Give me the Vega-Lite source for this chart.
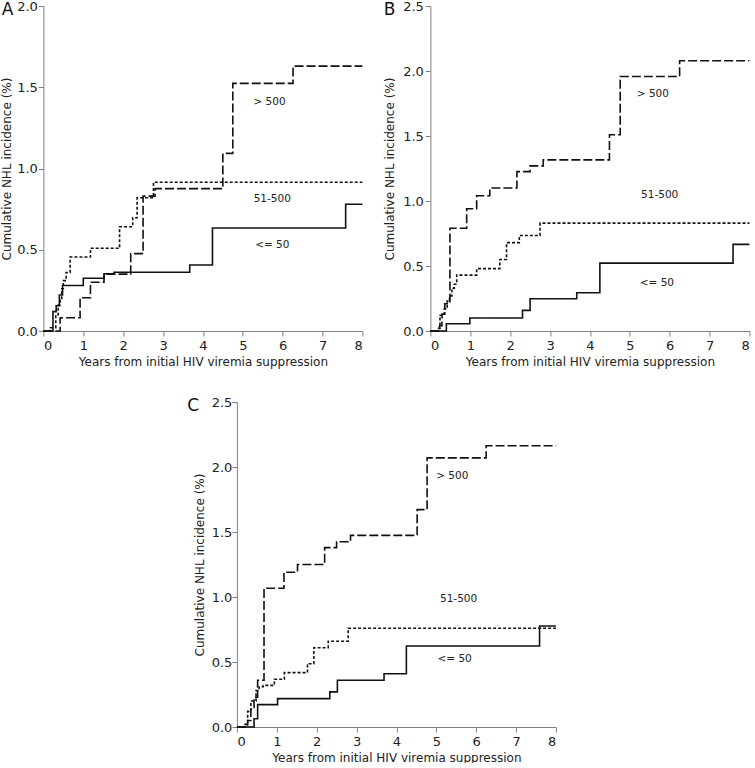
{
  "$schema": "https://vega.github.io/schema/vega-lite/v6.json",
  "padding": {"left": 0, "top": 0, "right": 0, "bottom": 0},
  "background": "white",
  "config": {
    "view": {"stroke": null},
    "font": "DejaVu Sans",
    "axis": {
      "grid": false,
      "domainColor": "#808080",
      "tickColor": "#808080",
      "tickSize": 5,
      "labelFont": "DejaVu Sans",
      "labelFontSize": 13,
      "labelColor": "#222222",
      "titleFont": "DejaVu Sans",
      "titleFontSize": 12,
      "titleFontWeight": "normal",
      "titleColor": "#222222"
    },
    "axisX": {"labelPadding": 3, "titlePadding": 4},
    "title": {"font": "DejaVu Sans", "fontSize": 17, "fontWeight": "normal", "color": "#111111", "anchor": "start", "frame": "bounds", "offset": 0, "baseline": "alphabetic"}
  },
  "datasets": {
    "curvesA": [
      {"group": "<= 50", "years": 0, "pct": 0},
      {"group": "<= 50", "years": 0.24, "pct": 0.119},
      {"group": "<= 50", "years": 0.32, "pct": 0.155},
      {"group": "<= 50", "years": 0.4, "pct": 0.222},
      {"group": "<= 50", "years": 0.48, "pct": 0.28},
      {"group": "<= 50", "years": 1.0, "pct": 0.325},
      {"group": "<= 50", "years": 1.52, "pct": 0.352},
      {"group": "<= 50", "years": 1.77, "pct": 0.362},
      {"group": "<= 50", "years": 3.67, "pct": 0.406},
      {"group": "<= 50", "years": 4.24, "pct": 0.634},
      {"group": "<= 50", "years": 7.58, "pct": 0.78},
      {"group": "<= 50", "years": 8, "pct": 0.78},
      {"group": "51-500", "years": 0, "pct": 0},
      {"group": "51-500", "years": 0.17, "pct": 0.02},
      {"group": "51-500", "years": 0.31, "pct": 0.1},
      {"group": "51-500", "years": 0.37, "pct": 0.16},
      {"group": "51-500", "years": 0.42, "pct": 0.2},
      {"group": "51-500", "years": 0.46, "pct": 0.26},
      {"group": "51-500", "years": 0.5, "pct": 0.31},
      {"group": "51-500", "years": 0.57, "pct": 0.36},
      {"group": "51-500", "years": 0.67, "pct": 0.455},
      {"group": "51-500", "years": 1.18, "pct": 0.509},
      {"group": "51-500", "years": 1.91, "pct": 0.642},
      {"group": "51-500", "years": 2.24, "pct": 0.697},
      {"group": "51-500", "years": 2.35, "pct": 0.82},
      {"group": "51-500", "years": 2.76, "pct": 0.915},
      {"group": "51-500", "years": 8, "pct": 0.915},
      {"group": "> 500", "years": 0, "pct": 0},
      {"group": "> 500", "years": 0.42, "pct": 0.082},
      {"group": "> 500", "years": 0.92, "pct": 0.205},
      {"group": "> 500", "years": 1.18, "pct": 0.3},
      {"group": "> 500", "years": 1.52, "pct": 0.35},
      {"group": "> 500", "years": 2.19, "pct": 0.476},
      {"group": "> 500", "years": 2.5, "pct": 0.83},
      {"group": "> 500", "years": 2.8, "pct": 0.876},
      {"group": "> 500", "years": 4.5, "pct": 1.093},
      {"group": "> 500", "years": 4.75, "pct": 1.524},
      {"group": "> 500", "years": 6.26, "pct": 1.63},
      {"group": "> 500", "years": 8, "pct": 1.63}
    ],
    "curvesB": [
      {"group": "<= 50", "years": 0, "pct": 0},
      {"group": "<= 50", "years": 0.4, "pct": 0.056},
      {"group": "<= 50", "years": 0.99, "pct": 0.1},
      {"group": "<= 50", "years": 2.31, "pct": 0.159},
      {"group": "<= 50", "years": 2.5, "pct": 0.248},
      {"group": "<= 50", "years": 3.67, "pct": 0.294},
      {"group": "<= 50", "years": 4.25, "pct": 0.522},
      {"group": "<= 50", "years": 7.59, "pct": 0.666},
      {"group": "<= 50", "years": 8, "pct": 0.666},
      {"group": "51-500", "years": 0, "pct": 0},
      {"group": "51-500", "years": 0.18, "pct": 0.02},
      {"group": "51-500", "years": 0.24, "pct": 0.12},
      {"group": "51-500", "years": 0.35, "pct": 0.17},
      {"group": "51-500", "years": 0.42, "pct": 0.23},
      {"group": "51-500", "years": 0.48, "pct": 0.27},
      {"group": "51-500", "years": 0.54, "pct": 0.33},
      {"group": "51-500", "years": 0.6, "pct": 0.36},
      {"group": "51-500", "years": 0.66, "pct": 0.43},
      {"group": "51-500", "years": 1.16, "pct": 0.48},
      {"group": "51-500", "years": 1.74, "pct": 0.55},
      {"group": "51-500", "years": 1.91, "pct": 0.68},
      {"group": "51-500", "years": 2.23, "pct": 0.735},
      {"group": "51-500", "years": 2.75, "pct": 0.83},
      {"group": "51-500", "years": 8, "pct": 0.83},
      {"group": "> 500", "years": 0, "pct": 0},
      {"group": "> 500", "years": 0.23, "pct": 0.04},
      {"group": "> 500", "years": 0.29, "pct": 0.13},
      {"group": "> 500", "years": 0.36, "pct": 0.21},
      {"group": "> 500", "years": 0.49, "pct": 0.79},
      {"group": "> 500", "years": 0.91, "pct": 0.94},
      {"group": "> 500", "years": 1.16, "pct": 1.04},
      {"group": "> 500", "years": 1.49, "pct": 1.1},
      {"group": "> 500", "years": 2.17, "pct": 1.226},
      {"group": "> 500", "years": 2.5, "pct": 1.27},
      {"group": "> 500", "years": 2.83, "pct": 1.316},
      {"group": "> 500", "years": 4.49, "pct": 1.51},
      {"group": "> 500", "years": 4.76, "pct": 1.958},
      {"group": "> 500", "years": 6.25, "pct": 2.079},
      {"group": "> 500", "years": 8, "pct": 2.079}
    ],
    "curvesC": [
      {"group": "<= 50", "years": 0, "pct": 0},
      {"group": "<= 50", "years": 0.43, "pct": 0.064},
      {"group": "<= 50", "years": 0.52, "pct": 0.172},
      {"group": "<= 50", "years": 1.02, "pct": 0.218},
      {"group": "<= 50", "years": 2.33, "pct": 0.27},
      {"group": "<= 50", "years": 2.52, "pct": 0.36},
      {"group": "<= 50", "years": 3.69, "pct": 0.41},
      {"group": "<= 50", "years": 4.25, "pct": 0.623},
      {"group": "<= 50", "years": 7.59, "pct": 0.777},
      {"group": "<= 50", "years": 8, "pct": 0.777},
      {"group": "51-500", "years": 0, "pct": 0},
      {"group": "51-500", "years": 0.18, "pct": 0.02},
      {"group": "51-500", "years": 0.27, "pct": 0.12},
      {"group": "51-500", "years": 0.35, "pct": 0.2},
      {"group": "51-500", "years": 0.48, "pct": 0.28},
      {"group": "51-500", "years": 0.56, "pct": 0.31},
      {"group": "51-500", "years": 0.66, "pct": 0.32},
      {"group": "51-500", "years": 0.94, "pct": 0.367},
      {"group": "51-500", "years": 1.19, "pct": 0.418},
      {"group": "51-500", "years": 1.77, "pct": 0.487},
      {"group": "51-500", "years": 1.93, "pct": 0.61},
      {"group": "51-500", "years": 2.29, "pct": 0.66},
      {"group": "51-500", "years": 2.79, "pct": 0.76},
      {"group": "51-500", "years": 8, "pct": 0.76},
      {"group": "> 500", "years": 0, "pct": 0},
      {"group": "> 500", "years": 0.27, "pct": 0.05},
      {"group": "> 500", "years": 0.35, "pct": 0.15},
      {"group": "> 500", "years": 0.43, "pct": 0.23},
      {"group": "> 500", "years": 0.52, "pct": 0.36},
      {"group": "> 500", "years": 0.68, "pct": 1.067},
      {"group": "> 500", "years": 1.18, "pct": 1.19},
      {"group": "> 500", "years": 1.52, "pct": 1.25},
      {"group": "> 500", "years": 2.2, "pct": 1.38},
      {"group": "> 500", "years": 2.5, "pct": 1.425},
      {"group": "> 500", "years": 2.85, "pct": 1.474},
      {"group": "> 500", "years": 4.52, "pct": 1.672},
      {"group": "> 500", "years": 4.77, "pct": 2.07},
      {"group": "> 500", "years": 6.25, "pct": 2.164},
      {"group": "> 500", "years": 8, "pct": 2.164}
    ],
    "labelsA": [
      {"label": "> 500", "years": 5.67, "pct": 1.41},
      {"label": "51-500", "years": 5.74, "pct": 0.815},
      {"label": "<= 50", "years": 5.74, "pct": 0.53}
    ],
    "labelsB": [
      {"label": "> 500", "years": 5.58, "pct": 1.82},
      {"label": "51-500", "years": 5.75, "pct": 1.047},
      {"label": "<= 50", "years": 5.68, "pct": 0.371}
    ],
    "labelsC": [
      {"label": "> 500", "years": 5.4, "pct": 1.93},
      {"label": "51-500", "years": 5.56, "pct": 0.987},
      {"label": "<= 50", "years": 5.46, "pct": 0.525}
    ]
  },
  "center": true,
  "spacing": 29,
  "vconcat": [
    {
      "spacing": 17,
      "align": "none",
      "hconcat": [
        {
          "title": {"text": "A", "dy": 22.5, "dx": 1},
          "width": 319,
          "height": 325,
          "encoding": {
            "x": {"field": "years", "type": "quantitative", "scale": {"domain": [0, 8], "nice": false}, "axis": {"values": [0, 1, 2, 3, 4, 5, 6, 7, 8], "format": "d", "title": "Years from initial HIV viremia suppression"}},
            "y": {"field": "pct", "type": "quantitative", "scale": {"domain": [0, 2], "nice": false}, "axis": {"values": [0, 0.5, 1, 1.5, 2], "format": ".1f", "title": "Cumulative NHL incidence (%)", "labelPadding": 1, "titlePadding": 3}}
          },
          "layer": [
            {
              "data": {"name": "curvesA"},
              "mark": {"type": "line", "interpolate": "step-after", "color": "#111111", "strokeWidth": 1.6},
              "encoding": {
                "strokeDash": {"field": "group", "type": "nominal", "scale": {"domain": ["<= 50", "51-500", "> 500"], "range": [[1, 0], [3, 2], [9, 3]]}, "legend": null}
              }
            },
            {
              "data": {"name": "labelsA"},
              "mark": {"type": "text", "fontSize": 10.5, "color": "#222222", "align": "center", "baseline": "middle"},
              "encoding": {"text": {"field": "label"}}
            }
          ]
        },
        {
          "title": {"text": "B", "dy": 22.5, "dx": 0},
          "width": 319,
          "height": 325,
          "encoding": {
            "x": {"field": "years", "type": "quantitative", "scale": {"domain": [0, 8], "nice": false}, "axis": {"values": [0, 1, 2, 3, 4, 5, 6, 7, 8], "format": "d", "title": "Years from initial HIV viremia suppression"}},
            "y": {"field": "pct", "type": "quantitative", "scale": {"domain": [0, 2.5], "nice": false}, "axis": {"values": [0, 0.5, 1, 1.5, 2, 2.5], "format": ".1f", "title": "Cumulative NHL incidence (%)", "labelPadding": 2, "titlePadding": 6}}
          },
          "layer": [
            {
              "data": {"name": "curvesB"},
              "mark": {"type": "line", "interpolate": "step-after", "color": "#111111", "strokeWidth": 1.6},
              "encoding": {
                "strokeDash": {"field": "group", "type": "nominal", "scale": {"domain": ["<= 50", "51-500", "> 500"], "range": [[1, 0], [3, 2], [9, 3]]}, "legend": null}
              }
            },
            {
              "data": {"name": "labelsB"},
              "mark": {"type": "text", "fontSize": 10.5, "color": "#222222", "align": "center", "baseline": "middle"},
              "encoding": {"text": {"field": "label"}}
            }
          ]
        }
      ]
    },
    {
      "title": {"text": "C", "dy": 22.5, "dx": -6},
      "width": 319,
      "height": 325,
      "encoding": {
        "x": {"field": "years", "type": "quantitative", "scale": {"domain": [0, 8], "nice": false}, "axis": {"values": [0, 1, 2, 3, 4, 5, 6, 7, 8], "format": "d", "title": "Years from initial HIV viremia suppression"}},
        "y": {"field": "pct", "type": "quantitative", "scale": {"domain": [0, 2.5], "nice": false}, "axis": {"values": [0, 0.5, 1, 1.5, 2, 2.5], "format": ".1f", "title": "Cumulative NHL incidence (%)", "labelPadding": 0, "titlePadding": 5}}
      },
      "layer": [
        {
          "data": {"name": "curvesC"},
          "mark": {"type": "line", "interpolate": "step-after", "color": "#111111", "strokeWidth": 1.6},
          "encoding": {
            "strokeDash": {"field": "group", "type": "nominal", "scale": {"domain": ["<= 50", "51-500", "> 500"], "range": [[1, 0], [3, 2], [9, 3]]}, "legend": null}
          }
        },
        {
          "data": {"name": "labelsC"},
          "mark": {"type": "text", "fontSize": 10.5, "color": "#222222", "align": "center", "baseline": "middle"},
          "encoding": {"text": {"field": "label"}}
        }
      ]
    }
  ]
}
